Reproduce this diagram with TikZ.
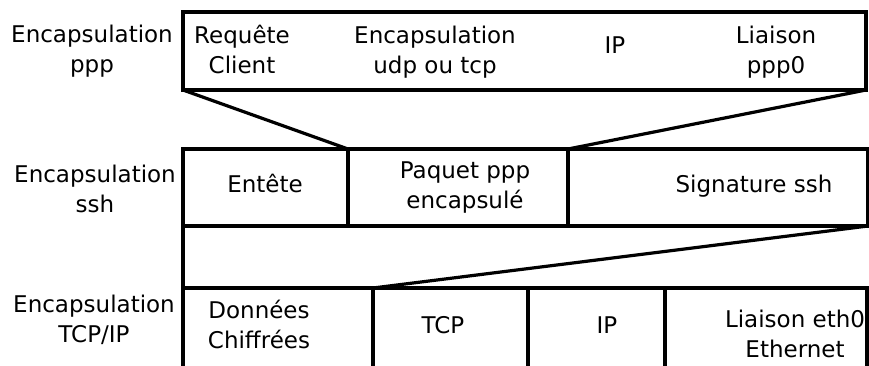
\documentclass[tikz,border=0pt]{standalone}
\usepackage{fontspec}
\setmainfont{DejaVu Sans}
\usetikzlibrary{positioning}

\begin{document}
\begin{tikzpicture}[x=1pt, y=-1pt, line width=3.2pt,
  every node/.style={font=\fontsize{23}{30}\selectfont, align=center, inner sep=0pt, outer sep=0pt},
  txt/.style={anchor=base},
  cell/.style={draw, minimum height=77pt},
  lowcell/.style={draw, minimum height=110pt}]
  \useasboundingbox (0,0) rectangle (869,365);
  \clip (0,0) rectangle (869,365);

  % couche ppp
  \node[draw, anchor=north west, minimum width=683pt, minimum height=78pt] (ppp) at (183,12) {};
  \node[txt] (lppp) at (92,72) {Encapsulation\\ppp};
  \node[txt] (req) at (242,73) {Requête\\Client};
  \node[txt] (udp) at (435,73) {Encapsulation\\udp ou tcp};
  \node[txt] (ipp) at (615,53) {IP};
  \node[txt] (lia) at (776,73) {Liaison\\ppp0};

  % couche ssh
  \node[cell, anchor=north west, minimum width=165pt] (ent) at (183,149) {};
  \node[cell, right=0pt of ent, minimum width=220pt] (paq) {};
  \node[cell, right=0pt of paq, minimum width=300pt] (sig) {};
  \node[txt] (lssh) at (95,212) {Encapsulation\\ssh};
  \node[txt] (tent) at (265,192) {Entête};
  \node[txt] (tpaq) at (465,208) {Paquet ppp\\encapsulé};
  \node[txt] (tsig) at (754,192) {Signature ssh};

  % couche TCP/IP
  \node[lowcell, anchor=north west, minimum width=190pt] (don) at (183,288) {};
  \node[lowcell, right=0pt of don, minimum width=155pt] (tcp) {};
  \node[lowcell, right=0pt of tcp, minimum width=137pt] (ipb) {};
  \node[lowcell, right=0pt of ipb, minimum width=202pt] (eth) {};
  \node[txt] (ltcp) at (94,342) {Encapsulation\\TCP/IP};
  \node[txt] (tdon) at (259,348) {Données\\Chiffrées};
  \node[txt] (ttcp) at (443,333) {TCP};
  \node[txt] (tipb) at (607,333) {IP};
  \node[txt] (teth) at (795,357) {Liaison eth0\\Ethernet};

  \draw (ppp.south west) -- (ent.north east);
  \draw (ppp.south east) -- (paq.north east);
  \draw (ent.south west) -- (don.north west);
  \draw (sig.south east) -- (don.north east);
\end{tikzpicture}
\end{document}
